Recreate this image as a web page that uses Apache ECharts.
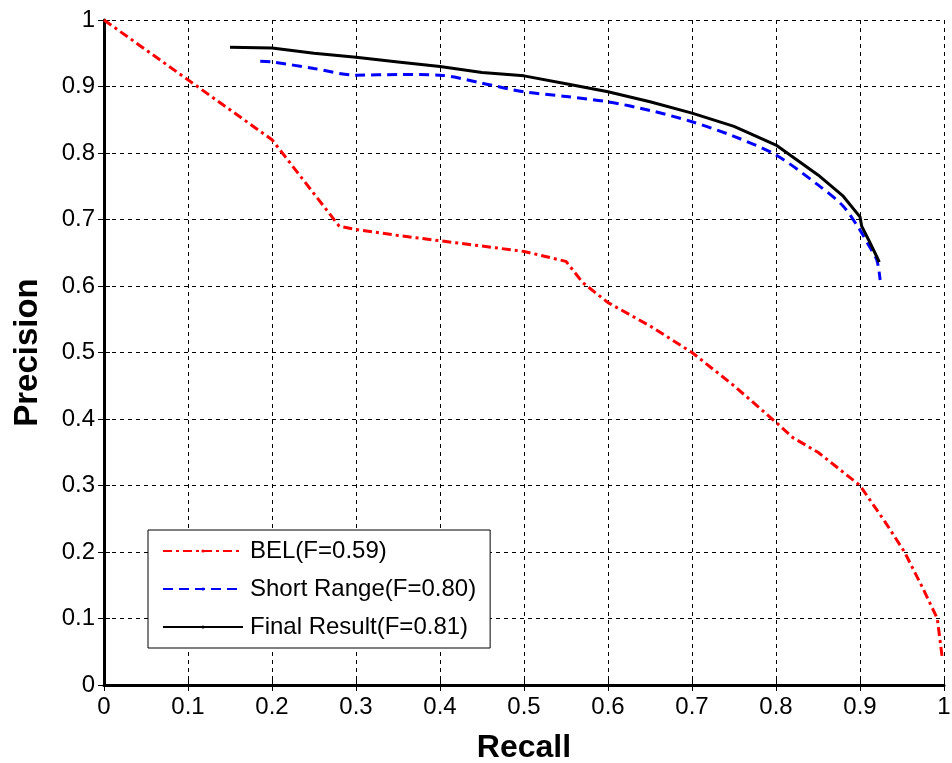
<!DOCTYPE html>
<html>
<head>
    <meta charset="utf-8">
    <script src="https://cdn.jsdelivr.net/npm/echarts@6/dist/echarts.min.js"></script>
</head>
<body style="margin:0;background:#fff;">
    <div id="main" style="width:952px;height:763px;"></div>
</body>
<script type="text/javascript">
    // values: [recall, precision]
    var belData = [
        [0, 1.0], [0.05, 0.955], [0.1, 0.91], [0.15, 0.865], [0.2, 0.82],
        [0.24, 0.755], [0.28, 0.69], [0.3, 0.685], [0.35, 0.676], [0.4, 0.668],
        [0.45, 0.66], [0.5, 0.652], [0.55, 0.637], [0.57, 0.605], [0.6, 0.575],
        [0.65, 0.54], [0.7, 0.5], [0.75, 0.45], [0.8, 0.395], [0.82, 0.372],
        [0.85, 0.35], [0.87, 0.33], [0.9, 0.3], [0.93, 0.245], [0.953, 0.2],
        [0.975, 0.145], [0.992, 0.1], [0.998, 0.04]
    ];
    var shortData = [
        [0.186, 0.938], [0.2, 0.937], [0.25, 0.927], [0.3, 0.917], [0.35, 0.918],
        [0.4, 0.917], [0.45, 0.905], [0.5, 0.892], [0.55, 0.885], [0.6, 0.877],
        [0.65, 0.864], [0.7, 0.847], [0.75, 0.825], [0.8, 0.797], [0.85, 0.752],
        [0.88, 0.72], [0.9, 0.684], [0.91, 0.662], [0.92, 0.639], [0.924, 0.609]
    ];
    var finalData = [
        [0.15, 0.959], [0.2, 0.958], [0.25, 0.95], [0.3, 0.944], [0.35, 0.937],
        [0.4, 0.93], [0.45, 0.921], [0.5, 0.916], [0.55, 0.904], [0.6, 0.892],
        [0.65, 0.877], [0.7, 0.86], [0.75, 0.84], [0.8, 0.812], [0.85, 0.767],
        [0.88, 0.735], [0.9, 0.704], [0.902, 0.69], [0.91, 0.67], [0.92, 0.644],
        [0.923, 0.636]
    ];
    var seriesNames = ['BEL(F=0.59)', 'Short Range(F=0.80)', 'Final Result(F=0.81)'];

    var myChart = echarts.init(document.getElementById('main'));

    var labelFont = {
        color: '#000',
        fontFamily: 'Liberation Sans, Arial',
        fontSize: 24
    };
    var gridLine = {show: true, lineStyle: {color: '#000', type: [4, 4], width: 1}};

    myChart.setOption({
        animation: false,
        backgroundColor: '#fff',
        grid: {left: 104, right: 8, top: 20, bottom: 78, outerBoundsMode: 'none', containLabel: false},
        legend: {
            data: seriesNames,
            orient: 'vertical',
            left: 148,
            top: 530,
            itemWidth: 80,
            itemHeight: 4,
            itemGap: 10,
            padding: [7, 14, 7, 14],
            backgroundColor: '#fff',
            borderColor: '#000',
            borderWidth: 1,
            textStyle: {color: '#000', fontFamily: 'Liberation Sans, Arial', fontSize: 24, lineHeight: 28, padding: [0, 0, 0, 2]}
        },
        xAxis: [{
            type: 'value',
            min: 0, max: 1, interval: 0.1,
            name: 'Recall',
            nameLocation: 'middle',
            nameGap: 47,
            nameTextStyle: {color: '#000', fontFamily: 'Liberation Sans, Arial', fontSize: 32, fontWeight: 'bold'},
            axisLine: {lineStyle: {color: '#000', width: 3}},
            axisTick: {inside: true, length: 6, lineStyle: {color: '#000'}},
            axisLabel: Object.assign({margin: 10}, labelFont),
            splitLine: gridLine
        }, {
            type: 'value',
            position: 'top',
            min: 0, max: 1, interval: 0.1,
            axisLine: {lineStyle: {color: '#000', width: 1}},
            axisTick: {inside: true, length: 6, lineStyle: {color: '#000'}},
            axisLabel: {show: false},
            splitLine: {show: false}
        }],
        yAxis: [{
            type: 'value',
            min: 0, max: 1, interval: 0.1,
            name: 'Precision',
            nameLocation: 'middle',
            nameGap: 60,
            nameTextStyle: {color: '#000', fontFamily: 'Liberation Sans, Arial', fontSize: 33, fontWeight: 'bold'},
            axisLine: {show: true, lineStyle: {color: '#000', width: 1}},
            axisTick: {show: true, inside: true, length: 6, lineStyle: {color: '#000'}},
            axisLabel: Object.assign({margin: 9}, labelFont),
            splitLine: gridLine
        }, {
            type: 'value',
            position: 'right',
            min: 0, max: 1, interval: 0.1,
            axisLine: {show: true, lineStyle: {color: '#000', width: 3}},
            axisTick: {show: true, inside: true, length: 6, lineStyle: {color: '#000'}},
            axisLabel: {show: false},
            splitLine: {show: false}
        }],
        series: [{
            name: seriesNames[0],
            type: 'line',
            data: belData,
            symbol: 'none',
            lineStyle: {color: '#ff0000', width: 3, type: [9, 4, 3, 4]},
            itemStyle: {color: '#ff0000'}
        }, {
            name: seriesNames[1],
            type: 'line',
            data: shortData,
            symbol: 'none',
            smooth: 0.3,
            lineStyle: {color: '#0000ff', width: 3, type: [10, 6]},
            itemStyle: {color: '#0000ff'}
        }, {
            name: seriesNames[2],
            type: 'line',
            data: finalData,
            symbol: 'none',
            lineStyle: {color: '#000', width: 3},
            itemStyle: {color: '#000'}
        }]
    });
</script>
</html>
